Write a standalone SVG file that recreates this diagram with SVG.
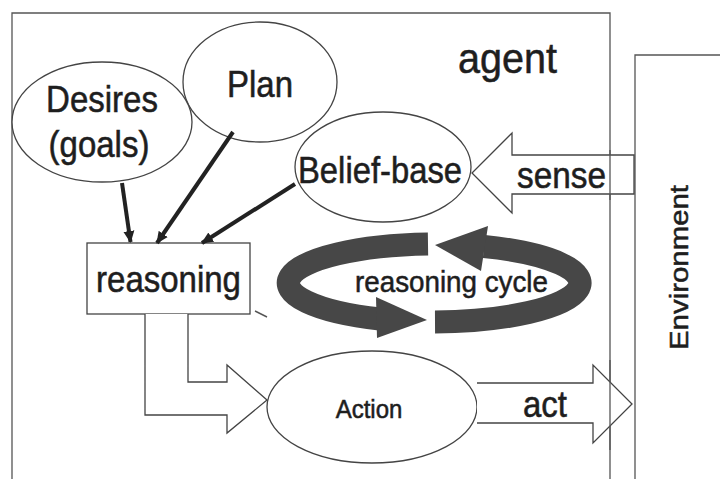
<svg xmlns="http://www.w3.org/2000/svg" width="720" height="479" viewBox="0 0 720 479">
  <defs>
    <style>
      .frame { fill: none; stroke: #555; stroke-width: 1.3; }
      .node { fill: #fff; stroke: #444; stroke-width: 1.3; }
      .label { font-family: "Liberation Sans", Arial, sans-serif; fill: #1e1e1e; stroke: #1e1e1e; stroke-width: 0.5; }
      .big { font-size: 33px; }
      .flow { fill: none; stroke: #222; stroke-width: 4; }
      .hollow { fill: #fff; stroke: #444; stroke-width: 1.3; stroke-linejoin: miter; }
      .cycle { fill: none; stroke: #474747; stroke-width: 23; }
      .cyclehead { fill: #474747; }
    </style>
    <marker id="tip" markerWidth="12" markerHeight="12" viewBox="0 0 12 12" refX="11" refY="6" orient="auto" markerUnits="userSpaceOnUse">
      <path d="M0,0.5 L12,6 L0,11.5 Z" fill="#222"/>
    </marker>
  </defs>

  <rect width="720" height="479" fill="#fff"/>

  <!-- environment frame -->
  <g id="environment">
    <path class="frame" d="M635,479 V55 H722"/>
    <text class="label" font-size="26" textLength="165" lengthAdjust="spacingAndGlyphs" transform="translate(688,350) rotate(-90)">Environment</text>
  </g>

  <!-- agent frame -->
  <g id="agent">
    <path class="frame" d="M12,479 V13 H610 V479"/>
    <text class="label" font-size="40" textLength="99" lengthAdjust="spacingAndGlyphs" transform="translate(458,73) scale(1,1.08)">agent</text>
  </g>

  <!-- nodes -->
  <g id="plan">
    <ellipse class="node" cx="260" cy="82" rx="77" ry="60"/>
    <text class="label big" text-anchor="middle" transform="translate(260,97) scale(1,1.12)">Plan</text>
  </g>
  <g id="desires">
    <ellipse class="node" cx="102" cy="122" rx="90" ry="60"/>
    <text class="label big" text-anchor="middle" transform="translate(102,112) scale(1,1.12)">Desires</text>
    <text class="label big" text-anchor="middle" transform="translate(99,157) scale(1,1.12)">(goals)</text>
  </g>
  <g id="belief-base">
    <ellipse class="node" cx="383" cy="167" rx="88" ry="55"/>
    <text class="label big" text-anchor="middle" textLength="164" lengthAdjust="spacingAndGlyphs" transform="translate(380,183) scale(1,1.1)">Belief-base</text>
  </g>
  <g id="reasoning">
    <rect class="node" x="87" y="243" width="163" height="71"/>
    <text class="label big" text-anchor="middle" transform="translate(168.5,292) scale(1,1.1)">reasoning</text>
  </g>
  <g id="action">
    <ellipse class="node" cx="372" cy="407" rx="105" ry="56"/>
    <text class="label" font-size="24" text-anchor="middle" stroke-width="0.3" transform="translate(369,418) scale(1,1.08)">Action</text>
  </g>

  <!-- reasoning cycle ribbon -->
  <g id="reasoning-cycle">
    <path class="cycle" d="M428,244 A148,39 0 0 0 380,319"/>
    <polygon class="cyclehead" points="376,297 427,320 377,338"/>
    <path class="cycle" d="M435,322 A148,39 0 0 0 484,246.5"/>
    <polygon class="cyclehead" points="488,226 435,245 481,271"/>
    <text class="label" font-size="28" fill="#333" stroke="#333" stroke-width="0.3" textLength="193" lengthAdjust="spacingAndGlyphs" transform="translate(355,292) scale(1,1.08)">reasoning cycle</text>
  </g>

  <!-- connectors -->
  <g id="connectors">
    <line class="flow" x1="122" y1="183" x2="130.5" y2="242" marker-end="url(#tip)"/>
    <line class="flow" x1="233" y1="132" x2="157" y2="243" marker-end="url(#tip)"/>
    <line class="flow" x1="295" y1="184" x2="202" y2="243" marker-end="url(#tip)"/>

    <!-- sense: environment to belief-base -->
    <path class="hollow" d="M634,155 H512 V133 L472,173 L512,213 V194 H634 Z"/>
    <text class="label big" textLength="89" lengthAdjust="spacingAndGlyphs" transform="translate(517,188) scale(1,1.1)">sense</text>
    <line x1="610" y1="150" x2="610" y2="200" stroke="#555" stroke-width="1.3"/>

    <!-- reasoning to action -->
    <path class="hollow" d="M145,314 V415 H227 V433 L267,400 L227,365 V382 H188 V314"/>

    <!-- act: action to environment -->
    <path class="hollow" d="M477,383 H593 V365 L632,404 L593,443 V423 H477"/>
    <text class="label big" textLength="44" lengthAdjust="spacingAndGlyphs" transform="translate(523,417) scale(1,1.1)">act</text>
    <line x1="610" y1="360" x2="610" y2="450" stroke="#555" stroke-width="1.3"/>

    <path d="M255,311 L267,317" stroke="#555" stroke-width="1.5" fill="none"/>
  </g>
</svg>
